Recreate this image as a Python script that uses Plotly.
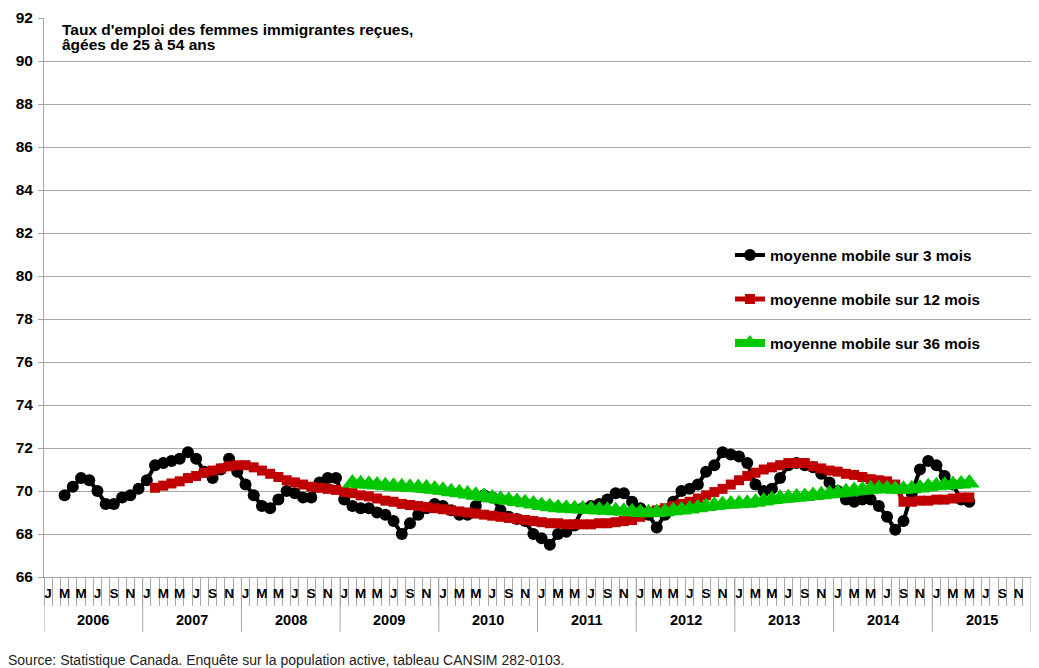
import plotly.graph_objects as go

# axis categories: monthly, Jan 2006 .. Dec 2015
years = list(range(2006, 2016))
month_letters = ["J", "F", "M", "A", "M", "J", "J", "A", "S", "O", "N", "D"]
y_ticks = list(range(66, 93, 2))

# moving averages (month index 0 = Jan 2006)
ma3_start = 2    # Mar 2006
ma3 = [69.8, 70.2, 70.6, 70.5, 70.0, 69.4, 69.4, 69.7, 69.8, 70.1,
       70.5, 71.2, 71.3, 71.4, 71.5, 71.8, 71.5, 70.9, 70.6, 71.0,
       71.5, 70.9, 70.3, 69.8, 69.3, 69.2, 69.6, 70.0, 69.9, 69.7,
       69.7, 70.4, 70.6, 70.6, 69.6, 69.3, 69.2, 69.2, 69.0, 68.9,
       68.6, 68.0, 68.5, 68.9, 69.2, 69.4, 69.3, 69.1, 68.9, 68.9,
       69.3, 69.8, 69.7, 69.1, 68.8, 68.7, 68.6, 68.0, 67.8, 67.5,
       68.0, 68.1, 68.4, 69.2, 69.3, 69.4, 69.6, 69.9, 69.9, 69.5,
       69.2, 68.9, 68.3, 68.9, 69.5, 70.0, 70.1, 70.3, 70.9, 71.2,
       71.8, 71.7, 71.6, 71.3, 70.3, 70.0, 70.1, 70.6, 71.2, 71.3,
       71.2, 71.1, 70.8, 70.4, 70.0, 69.6, 69.5, 69.6, 69.6, 69.3,
       68.8, 68.2, 68.6, 69.9, 71.0, 71.4, 71.2, 70.7, 70.3, 69.6,
       69.5]

ma12_start = 13  # Feb 2007
ma12 = [70.15, 70.25, 70.35, 70.45, 70.6, 70.7, 70.85, 70.95, 71.05, 71.15,
        71.2, 71.2, 71.1, 70.95, 70.8, 70.65, 70.5, 70.4, 70.3, 70.2,
        70.15, 70.1, 70.05, 69.95, 69.9, 69.8, 69.75, 69.65, 69.55, 69.5,
        69.4, 69.35, 69.3, 69.25, 69.2, 69.15, 69.1, 69.05, 69.0, 68.95,
        68.9, 68.85, 68.8, 68.75, 68.7, 68.65, 68.6, 68.55, 68.5, 68.5,
        68.45, 68.45, 68.45, 68.45, 68.5, 68.5, 68.55, 68.6, 68.65, 68.8,
        69.0, 69.1, 69.2, 69.3, 69.4, 69.5, 69.65, 69.8, 69.95, 70.1,
        70.3, 70.5, 70.7, 70.85, 71.0, 71.1, 71.2, 71.3, 71.3, 71.3,
        71.15, 71.05, 70.95, 70.9, 70.8, 70.75, 70.65, 70.55, 70.5, 70.45,
        70.3, 69.5, 69.5, 69.55, 69.55, 69.6, 69.6, 69.65, 69.7, 69.7]

ma36_start = 37  # Feb 2009
ma36 = [70.37, 70.34, 70.31, 70.28, 70.25, 70.22, 70.2, 70.18, 70.16, 70.14,
        70.09, 70.03, 69.97, 69.92, 69.86, 69.8, 69.74, 69.68, 69.62, 69.57,
        69.51, 69.45, 69.39, 69.33, 69.27, 69.22, 69.2, 69.18, 69.16, 69.14,
        69.12, 69.1, 69.08, 69.06, 69.03, 69.0, 68.99, 69.0, 69.04, 69.08,
        69.12, 69.16, 69.22, 69.28, 69.34, 69.37, 69.39, 69.41, 69.43, 69.48,
        69.54, 69.6, 69.66, 69.69, 69.72, 69.75, 69.79, 69.82, 69.87, 69.92,
        69.97, 70.02, 70.06, 70.1, 70.12, 70.1, 70.08, 70.08, 70.1, 70.14,
        70.2, 70.24, 70.27, 70.3, 70.33, 70.37]

title_lines = ["Taux d'emploi des femmes immigrantes reçues,", "âgées de 25 à 54 ans"]
source = "Source: Statistique Canada. Enquête sur la population active, tableau CANSIM 282-0103."

FONT = "Liberation Sans, Arial, sans-serif"
GRID = "#a6a6a6"
n_months = len(years) * 12


def idx(start, vals):
    return list(range(start, start + len(vals)))


fig = go.Figure()

fig.add_trace(go.Scatter(
    x=idx(ma3_start, ma3), y=ma3, mode="lines+markers",
    name="moyenne mobile sur 3 mois", legend="legend",
    line=dict(color="#000000", width=4),
    marker=dict(symbol="circle", size=12, color="#000000"),
))
fig.add_trace(go.Scatter(
    x=idx(ma12_start, ma12), y=ma12, mode="lines+markers",
    name="moyenne mobile sur 12 mois", legend="legend2",
    line=dict(color="#c00000", width=5),
    marker=dict(symbol="square", size=10, color="#c00000"),
))
fig.add_trace(go.Scatter(
    x=idx(ma36_start, ma36), y=ma36, mode="lines+markers",
    name="moyenne mobile sur 36 mois", legend="legend3",
    line=dict(color="#00c800", width=8),
    marker=dict(symbol="triangle-up", size=18, color="#00c800"),
))

# month letters on odd months, ticks on every month boundary
month_vals = [m for m in range(n_months) if m % 2 == 0]
month_text = [month_letters[m % 12] for m in month_vals]
bounds = [m - 0.5 for m in range(n_months + 1)]

fig.update_xaxes(
    range=[-0.5, n_months - 0.5], automargin=False,
    tickmode="array", tickvals=month_vals, ticktext=month_text,
    ticks="", ticklabelstandoff=4,
    tickfont=dict(family=FONT, size=13.5, color="#000000", weight="bold"),
    showgrid=False, zeroline=False,
    showline=True, linecolor=GRID, linewidth=1,
    minor=dict(tickmode="array", tickvals=bounds, ticks="outside",
               ticklen=28, tickcolor=GRID, tickwidth=1, showgrid=False),
)
fig.update_yaxes(
    range=[66, 92], automargin=False, tickmode="array", tickvals=y_ticks,
    ticks="outside", ticklen=5, tickcolor=GRID, ticklabelstandoff=2,
    tickfont=dict(family=FONT, size=15.5, color="#000000", weight="bold"),
    showgrid=True, gridcolor=GRID, gridwidth=1, zeroline=False,
    showline=True, linecolor=GRID, linewidth=1,
)

# year separators and labels
for k, yr in enumerate(years):
    fig.add_shape(type="line", xref="x", yref="paper",
                  x0=12 * k - 0.5, x1=12 * k - 0.5, y0=0, y1=-0.098,
                  line=dict(color=GRID, width=1))
    fig.add_annotation(x=12 * k + 5.5, y=-0.077, xref="x", yref="paper",
                       yanchor="middle", text=str(yr), showarrow=False,
                       font=dict(family=FONT, size=14.5, color="#000000", weight="bold"))
fig.add_shape(type="line", xref="x", yref="paper",
              x0=n_months - 0.5, x1=n_months - 0.5, y0=0, y1=-0.098,
              line=dict(color=GRID, width=1))

# two-line title inside the plot, tight line spacing
for line, ypos in zip(title_lines, [0.9803, 0.9517]):
    fig.add_annotation(
        x=0.0167, y=ypos, xref="paper", yref="paper", xanchor="left", yanchor="middle",
        showarrow=False, text=line,
        font=dict(family=FONT, size=15.5, color="#000000", weight="bold"),
    )
fig.add_annotation(
    x=-0.038, y=-0.1485, xref="paper", yref="paper", xanchor="left", yanchor="middle",
    showarrow=False, text=source,
    font=dict(family=FONT, size=14, color="#222222"),
)

leg = dict(xanchor="left", yanchor="middle", bgcolor="rgba(0,0,0,0)",
           font=dict(family=FONT, size=15.3, color="#000000", weight="bold"))
# the page body has an 8px margin, so the figure is 8px smaller on each side
fig.update_layout(
    width=1031, height=660,
    margin=dict(l=36, r=8, t=10, b=91),
    paper_bgcolor="white", plot_bgcolor="white",
    showlegend=True,
    legend=dict(x=0.695, y=0.576, **leg),
    legend2=dict(x=0.695, y=0.497, **leg),
    legend3=dict(x=0.695, y=0.4186, **leg),
)

fig.write_html("out.html")
